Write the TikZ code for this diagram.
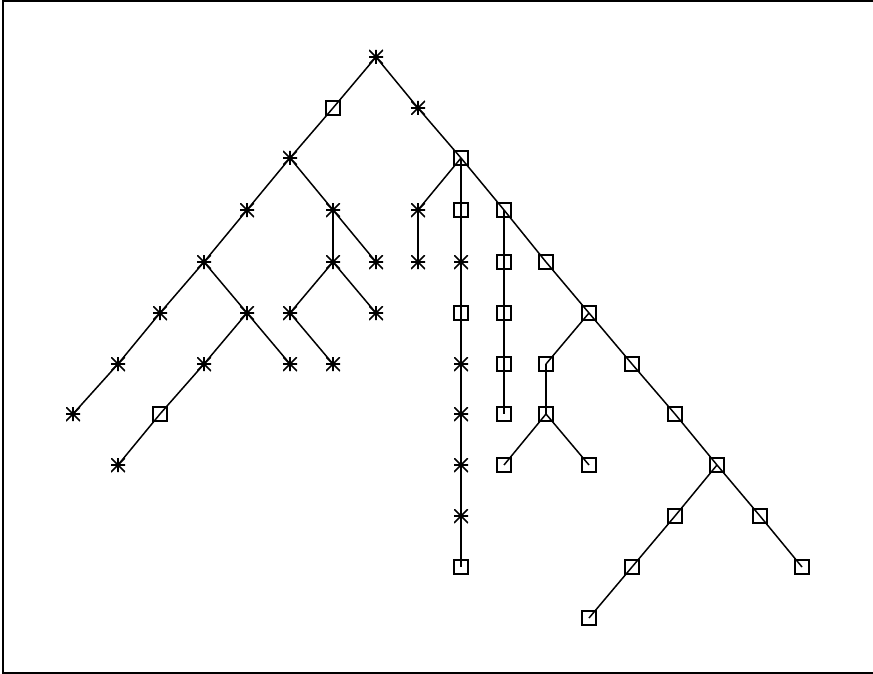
\documentclass[tikz,border=0pt]{standalone}
\begin{document}
\begin{tikzpicture}[x=1pt,y=-1pt,
  sq/.style={draw, rectangle, minimum size=14pt, inner sep=0pt, line width=1.8pt},
  ast/.style={rectangle, minimum size=14pt, inner sep=0pt,
    path picture={\draw[line width=1.6pt]
      (path picture bounding box.west) -- (path picture bounding box.east)
      (path picture bounding box.north) -- (path picture bounding box.south)
      (path picture bounding box.north west) -- (path picture bounding box.south east)
      (path picture bounding box.north east) -- (path picture bounding box.south west);}},
  edge/.style={line width=1.5pt}]
\useasboundingbox (0,0) rectangle (873,674);
\draw[line width=2pt] (873,1.5) -- (3,1.5) -- (3,672.5) -- (873,672.5);
% nodes
\node[ast] (r) at (376,57) {};
\node[sq] (a1) at (333,108) {};
\node[ast] (b1) at (418,108) {};
\node[ast] (a2) at (290,158) {};
\node[sq] (b2) at (461,158) {};
\node[ast] (L1) at (247,210) {};
\node[ast] (L2) at (333,210) {};
\node[ast] (L3) at (204,262) {};
\node[ast] (L4) at (160,313) {};
\node[ast] (L5) at (247,313) {};
\node[ast] (L6) at (118,364) {};
\node[ast] (L7) at (73,414) {};
\node[ast] (L8) at (204,364) {};
\node[ast] (L9) at (290,364) {};
\node[sq] (L10) at (160,414) {};
\node[ast] (L11) at (118,465) {};
\node[ast] (M1) at (333,262) {};
\node[ast] (M2) at (376,262) {};
\node[ast] (M3) at (290,313) {};
\node[ast] (M4) at (376,313) {};
\node[ast] (M5) at (333,364) {};
\node[ast] (R1) at (418,210) {};
\node[ast] (R2) at (418,262) {};
\node[sq] (C1) at (461,210) {};
\node[ast] (C2) at (461,262) {};
\node[sq] (C3) at (461,313) {};
\node[ast] (C4) at (461,364) {};
\node[ast] (C5) at (461,414) {};
\node[ast] (C6) at (461,465) {};
\node[ast] (C7) at (461,516) {};
\node[sq] (C8) at (461,567) {};
\node[sq] (D1) at (504,210) {};
\node[sq] (D2) at (504,262) {};
\node[sq] (D3) at (504,313) {};
\node[sq] (D4) at (504,364) {};
\node[sq] (D5) at (504,414) {};
\node[sq] (E1) at (546,262) {};
\node[sq] (E2) at (589,313) {};
\node[sq] (E3) at (546,364) {};
\node[sq] (E4) at (546,414) {};
\node[sq] (E5) at (504,465) {};
\node[sq] (E6) at (589,465) {};
\node[sq] (F1) at (632,364) {};
\node[sq] (F2) at (675,414) {};
\node[sq] (F3) at (717,465) {};
\node[sq] (F4) at (675,516) {};
\node[sq] (F5) at (760,516) {};
\node[sq] (F6) at (632,567) {};
\node[sq] (F7) at (589,618) {};
\node[sq] (F8) at (802,567) {};
% edges
\foreach \u/\v in {r/a1, r/b1, a1/a2, b1/b2, a2/L1, a2/L2, L1/L3, L3/L4, L3/L5,
  L4/L6, L6/L7, L5/L8, L5/L9, L8/L10, L10/L11, L2/M1, L2/M2, M1/M3, M1/M4, M3/M5,
  b2/R1, R1/R2, b2/C1, C1/C2, C2/C3, C3/C4, C4/C5, C5/C6, C6/C7, C7/C8,
  b2/D1, D1/D2, D2/D3, D3/D4, D4/D5, D1/E1, E1/E2, E2/E3, E3/E4, E4/E5, E4/E6,
  E2/F1, F1/F2, F2/F3, F3/F4, F3/F5, F4/F6, F6/F7, F5/F8}
  \draw[edge] (\u.center) -- (\v.center);
\end{tikzpicture}
\end{document}
